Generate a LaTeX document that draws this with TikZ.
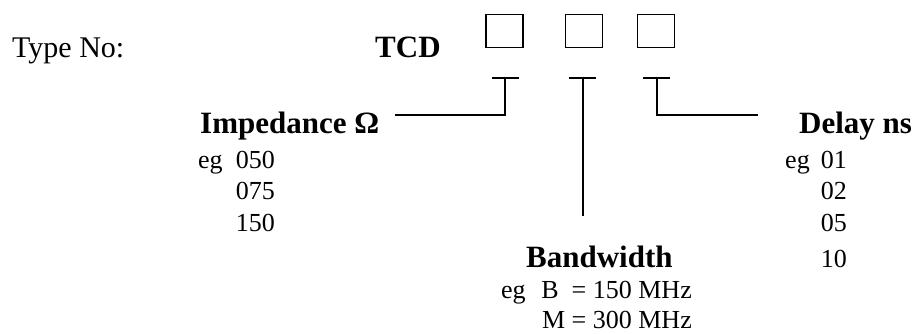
\documentclass[tikz,border=0pt]{standalone}
\usepackage{fontspec}
\setmainfont{Liberation Serif}
\begin{document}
\begin{tikzpicture}[x=1pt,y=-1pt,
  big/.style={inner sep=0pt,font=\fontsize{30}{36}\selectfont},
  head/.style={inner sep=0pt,font=\fontsize{31}{37}\selectfont\bfseries},
  small/.style={inner sep=0pt,font=\fontsize{26}{31}\selectfont},
  slot/.style={draw,line width=1.5pt,minimum width=37pt,minimum height=33pt,inner sep=0pt},
  wire/.style={line width=1.5pt}]
\useasboundingbox (0,0) rectangle (919,333);
% title
\node[big,anchor=base west] (type) at (12,57) {Type No:};
\node[head,anchor=base west] (tcd) at (375,57) {TCD};
\node[slot] (b1) at (504.5,31) {};
\node[slot] (b2) at (584,31) {};
\node[slot] (b3) at (656,31) {};
% T markers
\coordinate (t1l) at (492,78); \coordinate (t1r) at (519,78); \coordinate (t1) at (505,78);
\coordinate (t2l) at (569,78); \coordinate (t2r) at (596,78); \coordinate (t2) at (583,78);
\coordinate (t3l) at (643,78); \coordinate (t3r) at (670,78); \coordinate (t3) at (657,78);
\coordinate (c1) at (505,115); \coordinate (e1) at (395,115);
\coordinate (e2) at (583,216);
\coordinate (c3) at (657,115); \coordinate (e3) at (758,115);
\draw[wire] (t1l) -- (t1r);
\draw[wire] (t2l) -- (t2r);
\draw[wire] (t3l) -- (t3r);
\draw[wire] (t1) -- (c1) -- (e1);
\draw[wire] (t2) -- (e2);
\draw[wire] (t3) -- (c3) -- (e3);
% Impedance
\node[head,anchor=base west] (imp) at (200,133) {Impedance Ω};
\node[small,anchor=base west] (imp0) at (198,168) {eg};
\node[small,anchor=base east] (imp1) at (275,168) {050};
\node[small,anchor=base east] (imp2) at (275,199) {075};
\node[small,anchor=base east] (imp3) at (275,231) {150};
% Delay
\node[head,anchor=base west] (del) at (799,133) {Delay ns};
\node[small,anchor=base west] (del0) at (785,168) {eg};
\node[small,anchor=base east] (del1) at (847,168) {01};
\node[small,anchor=base east] (del2) at (847,199) {02};
\node[small,anchor=base east] (del3) at (847,231) {05};
\node[small,anchor=base east] (del4) at (847,267) {10};
% Bandwidth
\node[head,anchor=base west] (bw) at (526,267) {Bandwidth};
\node[small,anchor=base west] (bw0) at (501,298) {eg};
\node[small,anchor=base east] (bw1) at (692,298) {B\ \ = 150 MHz};
\node[small,anchor=base east] (bw2) at (692,328) {M = 300 MHz};
\end{tikzpicture}
\end{document}
